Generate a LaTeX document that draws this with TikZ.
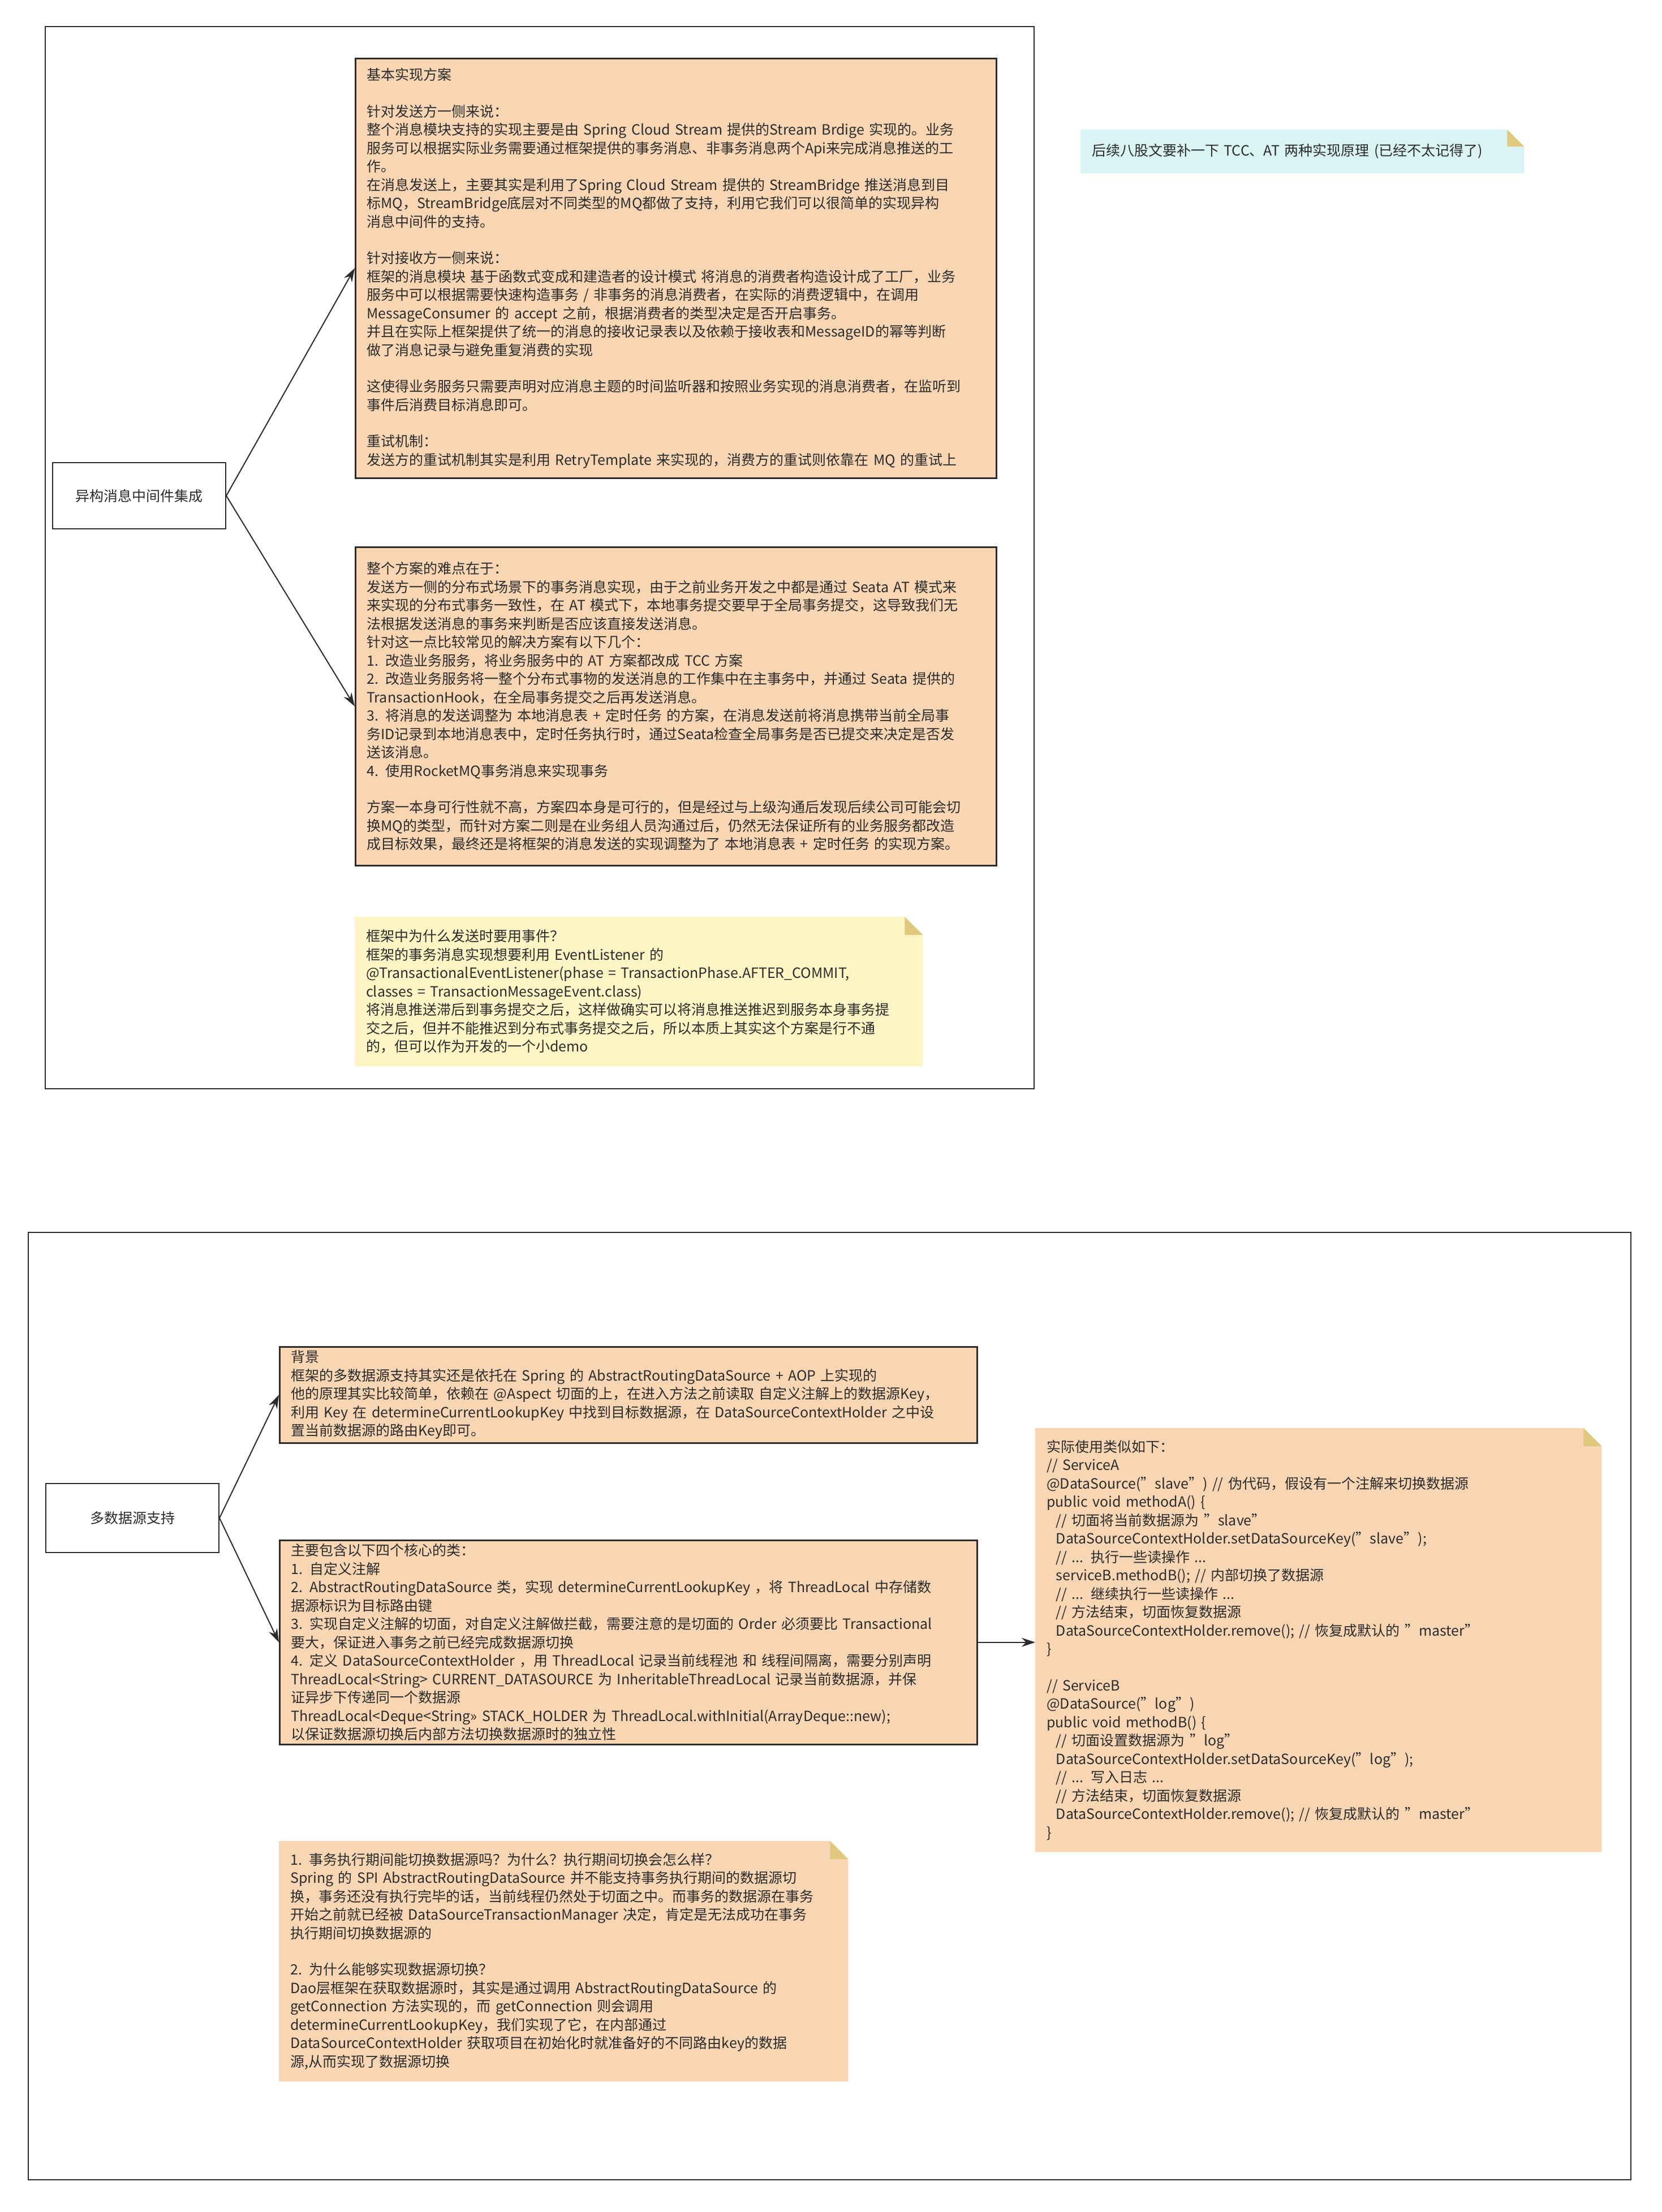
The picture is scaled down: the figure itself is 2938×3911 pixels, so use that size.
\documentclass[tikz,border=0pt]{standalone}
\usepackage{fontspec}
\setmainfont{Noto Sans CJK SC}
\usetikzlibrary{arrows.meta,backgrounds}
\definecolor{peach}{HTML}{F8D6B4}
\definecolor{notey}{HTML}{FFF4C3}
\definecolor{cyannote}{HTML}{DAF3F3}
\definecolor{fold}{HTML}{E0C97F}
\definecolor{ink}{HTML}{2B2B2B}
\newcommand{\dq}{\char34{}}
\tikzset{
  frame/.style={draw=ink,line width=2pt},
  txt/.style={font=\fontsize{25}{32.5}\selectfont,align=left,text=ink,inner ysep=0pt,inner xsep=20pt},
  topic/.style={txt,inner xsep=0pt,align=center,draw=ink,line width=2pt,fill=white,anchor=north west},
  pbox/.style={txt,draw=ink,line width=2.5pt,fill=peach,anchor=north west},
  notebox/.style={txt,anchor=north west},
  conn/.style={ink,line width=2pt,-{Stealth[length=24pt,width=16pt]}}
}
\newcommand{\notebg}[3]{% node, fill, fold size
  \fill[#2] (#1.north west) -- ([xshift=-#3]#1.north east) -- ([yshift=-#3]#1.north east) -- (#1.south east) -- (#1.south west) -- cycle;
  \fill[fold] ([xshift=-#3]#1.north east) -- ([xshift=-#3,yshift=-#3]#1.north east) -- ([yshift=-#3]#1.north east) -- cycle;
}
\begin{document}
\begin{tikzpicture}[x=1pt,y=-1pt]
\useasboundingbox (0,0) rectangle (2938,3911);
\draw[frame] (80,47) rectangle (1828,1925);
\draw[frame] (50,2179) rectangle (2883,3854);

\node[topic,minimum width=306pt,minimum height=117pt] (t1) at (92,817) {异构消息中间件集成};

\node[pbox,text width=1093pt,minimum height=742pt] (b1) at (627,102) {基本实现方案\\[32pt]
针对发送方一侧来说：\\
整个消息模块支持的实现主要是由 Spring Cloud Stream 提供的Stream Brdige 实现的。业务\\
服务可以根据实际业务需要通过框架提供的事务消息、非事务消息两个Api来完成消息推送的工\\
作。\\
在消息发送上，主要其实是利用了Spring Cloud Stream 提供的 StreamBridge 推送消息到目\\
标MQ，StreamBridge底层对不同类型的MQ都做了支持，利用它我们可以很简单的实现异构\\
消息中间件的支持。\\[32pt]
针对接收方一侧来说：\\
框架的消息模块 基于函数式变成和建造者的设计模式 将消息的消费者构造设计成了工厂，业务\\
服务中可以根据需要快速构造事务 / 非事务的消息消费者，在实际的消费逻辑中，在调用\\
MessageConsumer 的 accept 之前，根据消费者的类型决定是否开启事务。\\
并且在实际上框架提供了统一的消息的接收记录表以及依赖于接收表和MessageID的幂等判断\\
做了消息记录与避免重复消费的实现\\[32pt]
这使得业务服务只需要声明对应消息主题的时间监听器和按照业务实现的消息消费者，在监听到\\
事件后消费目标消息即可。\\[32pt]
重试机制：\\
发送方的重试机制其实是利用 RetryTemplate 来实现的，消费方的重试则依靠在 MQ 的重试上};

\node[pbox,text width=1093pt,minimum height=563pt] (b2) at (627,966) {整个方案的难点在于：\\
发送方一侧的分布式场景下的事务消息实现，由于之前业务开发之中都是通过 Seata AT 模式来\\
来实现的分布式事务一致性，在 AT 模式下，本地事务提交要早于全局事务提交，这导致我们无\\
法根据发送消息的事务来判断是否应该直接发送消息。\\
针对这一点比较常见的解决方案有以下几个：\\
1. 改造业务服务，将业务服务中的 AT 方案都改成 TCC 方案\\
2. 改造业务服务将一整个分布式事物的发送消息的工作集中在主事务中，并通过 Seata 提供的\\
TransactionHook，在全局事务提交之后再发送消息。\\
3. 将消息的发送调整为 本地消息表 + 定时任务 的方案，在消息发送前将消息携带当前全局事\\
务ID记录到本地消息表中，定时任务执行时，通过Seata检查全局事务是否已提交来决定是否发\\
送该消息。\\
4. 使用RocketMQ事务消息来实现事务\\[32pt]
方案一本身可行性就不高，方案四本身是可行的，但是经过与上级沟通后发现后续公司可能会切\\
换MQ的类型，而针对方案二则是在业务组人员沟通过后，仍然无法保证所有的业务服务都改造\\
成目标效果，最终还是将框架的消息发送的实现调整为了 本地消息表 + 定时任务 的实现方案。};

\node[notebox,text width=964pt,minimum height=264pt] (n1) at (627,1621) {框架中为什么发送时要用事件？\\
框架的事务消息实现想要利用 EventListener 的\\
@TransactionalEventListener(phase = TransactionPhase.AFTER\_COMMIT,\\
classes = TransactionMessageEvent.class)\\
将消息推送滞后到事务提交之后，这样做确实可以将消息推送推迟到服务本身事务提\\
交之后，但并不能推迟到分布式事务提交之后，所以本质上其实这个方案是行不通\\
的，但可以作为开发的一个小demo};

\node[notebox,text width=744pt,minimum height=77pt] (n2) at (1910,229) {后续八股文要补一下 TCC、AT 两种实现原理 (已经不太记得了)};

\node[topic,minimum width=306pt,minimum height=122pt] (t2) at (80,2622) {多数据源支持};

\node[pbox,text width=1193pt,minimum height=170pt] (b3) at (493,2380) {背景\\
框架的多数据源支持其实还是依托在 Spring 的 AbstractRoutingDataSource + AOP 上实现的\\
他的原理其实比较简单，依赖在 @Aspect 切面的上，在进入方法之前读取 自定义注解上的数据源Key，\\
利用 Key 在 determineCurrentLookupKey 中找到目标数据源，在 DataSourceContextHolder 之中设\\
置当前数据源的路由Key即可。};

\node[pbox,text width=1193pt,minimum height=361pt] (b4) at (493,2722) {主要包含以下四个核心的类：\\
1. 自定义注解\\
2. AbstractRoutingDataSource 类，实现 determineCurrentLookupKey ，将 ThreadLocal 中存储数\\
据源标识为目标路由键\\
3. 实现自定义注解的切面，对自定义注解做拦截，需要注意的是切面的 Order 必须要比 Transactional\\
要大，保证进入事务之前已经完成数据源切换\\
4. 定义 DataSourceContextHolder ，用 ThreadLocal 记录当前线程池 和 线程间隔离，需要分别声明\\
* ThreadLocal<String> CURRENT\_DATASOURCE 为 InheritableThreadLocal 记录当前数据源，并保\\
证异步下传递同一个数据源\\
* ThreadLocal<Deque<String>> STACK\_HOLDER 为 ThreadLocal.withInitial(ArrayDeque::new);\\
以保证数据源切换后内部方法切换数据源时的独立性};

\node[notebox,text width=961pt,minimum height=749pt] (n3) at (1830,2525) {实际使用类似如下：\\
// ServiceA\\
@DataSource(\dq slave\dq) // 伪代码，假设有一个注解来切换数据源\\
public void methodA() \{\\
\ \ // 切面将当前数据源为 \dq slave\dq\\
\ \ DataSourceContextHolder.setDataSourceKey(\dq slave\dq);\\
\ \ // ... 执行一些读操作 ...\\
\ \ serviceB.methodB(); // 内部切换了数据源\\
\ \ // ... 继续执行一些读操作 ...\\
\ \ // 方法结束，切面恢复数据源\\
\ \ DataSourceContextHolder.remove(); // 恢复成默认的 \dq master\dq\\
\}\\[32pt]
// ServiceB\\
@DataSource(\dq log\dq)\\
public void methodB() \{\\
\ \ // 切面设置数据源为 \dq log\dq\\
\ \ DataSourceContextHolder.setDataSourceKey(\dq log\dq);\\
\ \ // ... 写入日志 ...\\
\ \ // 方法结束，切面恢复数据源\\
\ \ DataSourceContextHolder.remove(); // 恢复成默认的 \dq master\dq\\
\}};

\node[notebox,text width=966pt,minimum height=425pt] (n4) at (493,3255) {1. 事务执行期间能切换数据源吗？为什么？执行期间切换会怎么样？\\
Spring 的 SPI AbstractRoutingDataSource 并不能支持事务执行期间的数据源切\\
换，事务还没有执行完毕的话，当前线程仍然处于切面之中。而事务的数据源在事务\\
开始之前就已经被 DataSourceTransactionManager 决定，肯定是无法成功在事务\\
执行期间切换数据源的\\[32pt]
2. 为什么能够实现数据源切换？\\
Dao层框架在获取数据源时，其实是通过调用 AbstractRoutingDataSource 的\\
getConnection 方法实现的，而 getConnection 则会调用\\
determineCurrentLookupKey，我们实现了它，在内部通过\\
DataSourceContextHolder 获取项目在初始化时就准备好的不同路由key的数据\\
源,从而实现了数据源切换};

\begin{scope}[on background layer]
\fill[white] (0,0) rectangle (2938,3911);
\notebg{n1}{notey}{32pt}
\notebg{n2}{cyannote}{30pt}
\notebg{n3}{peach}{32pt}
\notebg{n4}{peach}{32pt}
\end{scope}

\draw[conn] (t1.east) -- (b1.west);
\draw[conn] (t1.east) -- (b2.west);
\draw[conn] (t2.east) -- (b3.west);
\draw[conn] (t2.east) -- (b4.west);
\draw[conn] (b4.east) -- (n3.west |- b4.east);
\end{tikzpicture}
\end{document}
